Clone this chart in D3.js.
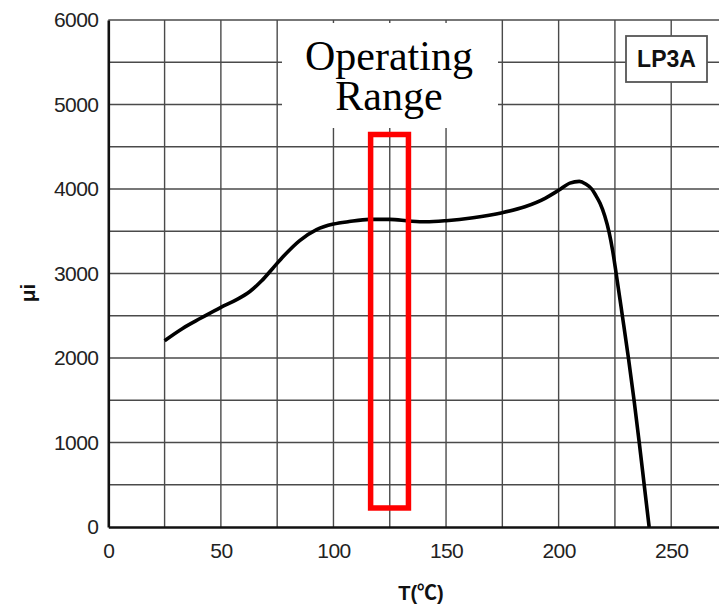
<!DOCTYPE html>
<html><head><meta charset="utf-8">
<script src="https://cdn.jsdelivr.net/npm/d3@7"></script>
<style>body{margin:0;background:#fff;} svg{display:block}</style>
</head><body><svg id="c" width="719" height="607"></svg>
<script>
// Data
const temps = [25, 33, 41, 50, 57, 63, 68, 73, 78, 85, 92.5, 100, 107, 116, 125, 134, 141, 150, 162, 175, 185, 194, 200, 205, 209.2, 212, 214.7, 216.5, 218.4, 220.5, 222.4, 224, 225.5, 228.3, 231.0, 233.5, 235.8, 238.0, 240.2];
const mu    = [2205, 2350, 2470, 2600, 2690, 2790, 2910, 3060, 3210, 3390, 3520, 3585, 3615, 3640, 3640, 3620, 3612, 3625, 3660, 3720, 3790, 3890, 3985, 4070, 4090, 4060, 4000, 3925, 3831, 3680, 3490, 3270, 3010, 2500, 2000, 1500, 1000, 500, 0];
const xTicks = [0, 50, 100, 150, 200, 250];
const yTicks = [0, 1000, 2000, 3000, 4000, 5000, 6000];
const xGridVals = [25, 50, 75, 100, 125, 150, 175, 200, 225, 250, 275];
const yGridVals = [500, 1000, 1500, 2000, 2500, 3000, 3500, 4000, 4500, 5000, 5500, 6000];
const opRangeT = [116.5, 133.3];
const opRangeMu = [225, 4645];
const seriesLabel = "LP3A";
const annotationLines = ["Operating", "Range"];
const xTitle = "T(℃)";
const yTitle = "μi";

const svg = d3.select("#c");
const x = d3.scaleLinear().domain([0, 275]).range([108.3, 727.5]);
const y = d3.scaleLinear().domain([0, 6000]).range([527, 20]);

// grid
const grid = svg.append("g").attr("stroke", "#4a4a4a").attr("stroke-width", 1.4);
grid.selectAll("line.v").data(xGridVals).join("line").attr("class","v")
  .attr("x1", d => x(d)).attr("x2", d => x(d)).attr("y1", y(6000)).attr("y2", y(0));
grid.selectAll("line.h").data(yGridVals).join("line").attr("class","h")
  .attr("x1", x(0)).attr("x2", x(275)).attr("y1", d => y(d)).attr("y2", d => y(d));

// axes
const font = "'Liberation Sans', Arial, sans-serif";
const yAxis = svg.append("g").attr("transform", `translate(${x(0)},0)`)
  .call(d3.axisLeft(y).tickValues(yTicks).tickSize(0).tickSizeOuter(0).tickPadding(10).tickFormat(d3.format("d")));
yAxis.select(".domain").attr("stroke", "#111").attr("stroke-width", 2.6);
yAxis.selectAll("text").attr("font-family", font).attr("font-size", 21).attr("fill", "#222").attr("letter-spacing", -0.6);

const xAxis = svg.append("g").attr("transform", `translate(0,${y(0)})`)
  .call(d3.axisBottom(x).tickValues(xTicks).tickSize(0).tickSizeOuter(0).tickPadding(16).tickFormat(d3.format("d")));
xAxis.select(".domain").attr("stroke", "#111").attr("stroke-width", 2.6);
xAxis.selectAll("text").attr("font-family", font).attr("font-size", 21).attr("fill", "#222").attr("letter-spacing", -0.6);

// curve
const line = d3.line().x((d, i) => x(temps[i])).y(d => y(d)).curve(d3.curveMonotoneX);
svg.append("path").datum(mu).attr("d", line).attr("fill", "none")
  .attr("stroke", "#000").attr("stroke-width", 3.6).attr("stroke-linejoin", "round");

// annotation white box + text
svg.append("rect").attr("x", 282).attr("y", 23).attr("width", 216).attr("height", 105).attr("fill", "#fff");
svg.append("text")
  .attr("text-anchor", "middle").attr("font-family", "'Liberation Serif', 'Times New Roman', serif")
  .attr("font-size", 42).attr("fill", "#000")
  .selectAll("tspan").data(annotationLines).join("tspan")
  .attr("x", 389).attr("y", (d, i) => 70 + i * 40).text(d => d);

// operating range rectangle
svg.append("rect")
  .attr("x", x(opRangeT[0])).attr("y", y(opRangeMu[1]))
  .attr("width", x(opRangeT[1]) - x(opRangeT[0])).attr("height", y(opRangeMu[0]) - y(opRangeMu[1]))
  .attr("fill", "none").attr("stroke", "#ff0000").attr("stroke-width", 5.5);

// series label box
svg.append("rect").attr("x", 626).attr("y", 36).attr("width", 81).attr("height", 46)
  .attr("fill", "#fff").attr("stroke", "#555").attr("stroke-width", 1.8);
svg.append("text").attr("x", 666.5).attr("y", 67).attr("text-anchor", "middle")
  .attr("font-family", font).attr("font-weight", "bold").attr("font-size", 23).attr("fill", "#111")
  .text(seriesLabel);

// axis titles
svg.append("text").attr("x", 421).attr("y", 600).attr("text-anchor", "middle")
  .attr("font-family", font + ", 'Noto Sans CJK SC'").attr("font-weight", "bold").attr("font-size", 20)
  .attr("fill", "#111").text(xTitle);
svg.append("text").attr("transform", "translate(35,293) rotate(-90)").attr("text-anchor", "middle")
  .attr("font-family", font).attr("font-weight", "bold").attr("font-size", 21)
  .attr("fill", "#111").text(yTitle);
</script></body></html>
